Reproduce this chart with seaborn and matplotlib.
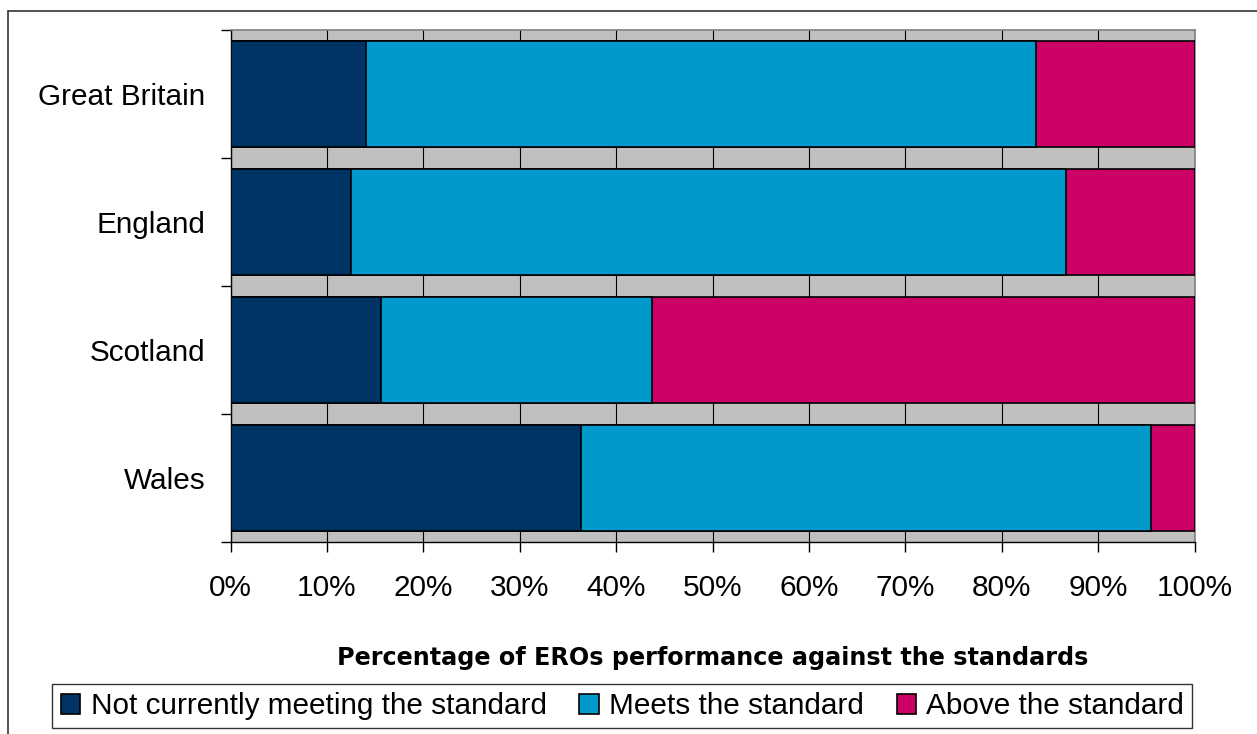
import numpy as np
import pandas as pd
import matplotlib
matplotlib.use("Agg")
import matplotlib.pyplot as plt
from matplotlib.patches import Patch
from matplotlib.lines import Line2D
from matplotlib.ticker import FixedLocator
import seaborn as sns

# ERO performance against the standards, share of EROs in each band (%)
regions = ["Great Britain", "England", "Scotland", "Wales"]
not_meeting = [14.1, 12.5, 15.6, 36.4]
meets = [69.5, 74.2, 28.1, 59.1]
above = [16.4, 13.3, 56.3, 4.5]

series_names = ["Not currently meeting the standard", "Meets the standard", "Above the standard"]
series_colors = ["#003366", "#0099CC", "#CC0066"]
x_ticks = list(range(0, 101, 10))
x_tick_labels = [f"{t}%" for t in x_ticks]
x_title = "Percentage of EROs performance against the standards"

sns.set_style("white")
plt.rcParams["font.family"] = ["Liberation Sans", "DejaVu Sans"]
plt.rcParams["text.color"] = "black"
plt.rcParams["axes.labelcolor"] = "black"
plt.rcParams["xtick.color"] = "black"
plt.rcParams["ytick.color"] = "black"

df = pd.DataFrame({
    "region": regions,
    "not_meeting": not_meeting,
    "meets": meets,
    "above": above,
})
# cumulative right edges of each stacked segment
df["edge1"] = df["not_meeting"]
df["edge2"] = df["not_meeting"] + df["meets"]
df["edge3"] = df["edge2"] + df["above"]

fig = plt.figure(figsize=(12.57, 7.34), dpi=100)
ax = fig.add_axes([0.1834, 0.2616, 0.7669, 0.6975])
ax.set_facecolor("#C0C0C0")

# widest segment first so the shorter ones sit on top of it
for col, color in zip(["edge3", "edge2", "edge1"], series_colors[::-1]):
    sns.barplot(data=df, x=col, y="region", orient="h", color=color,
                saturation=1, width=0.834, edgecolor="black", linewidth=1.2,
                ax=ax, zorder=3)

ax.set_xlim(0, 100)
ax.set_ylim(3.5, -0.5)
ax.set_xticks(x_ticks)
ax.set_xticklabels(x_tick_labels, fontsize=21.4, color="black")
ax.tick_params(axis="x", length=7, width=1, color="black", pad=16, direction="out")
ax.xaxis.grid(True, color="black", linewidth=0.8)
ax.yaxis.grid(False)
ax.set_axisbelow(True)

ax.set_yticks(range(len(regions)))
ax.set_yticklabels(regions, fontsize=21.4, color="black")
ax.tick_params(axis="y", which="major", length=0, pad=18)
ax.yaxis.set_minor_locator(FixedLocator(np.arange(-0.5, len(regions), 1.0)))
ax.tick_params(axis="y", which="minor", length=7, width=1, color="black", direction="out", left=True)
ax.tick_params(axis="x", bottom=True)

for side in ["left", "bottom"]:
    ax.spines[side].set_color("black")
    ax.spines[side].set_linewidth(1)
for side in ["top", "right"]:
    ax.spines[side].set_color("#808080")
    ax.spines[side].set_linewidth(1.2)

ax.set_ylabel("")
ax.set_xlabel(x_title, fontsize=17.2, fontweight="bold", family="DejaVu Sans",
              va="center", color="black")
ax.xaxis.set_label_coords(0.5, -0.226)

handles = [Patch(facecolor=c, edgecolor="black", linewidth=1.2, label=n)
           for n, c in zip(series_names, series_colors)]
leg = fig.legend(handles=handles, loc="center", bbox_to_anchor=(0.4952, 0.0381),
                 ncol=3, fontsize=21.4, frameon=True, fancybox=False, shadow=False,
                 handlelength=0.65, handleheight=0.65, handletextpad=0.35,
                 columnspacing=1.1, borderpad=0.28, borderaxespad=0)
for t in leg.get_texts():
    t.set_color("black")
frame = leg.get_frame()
frame.set_edgecolor("#333333")
frame.set_linewidth(1)
frame.set_facecolor("white")
frame.set_alpha(1)

# outer chart border along the left and top edges
fig.add_artist(Line2D([8 / 1257, 8 / 1257], [0, 1 - 11 / 734], transform=fig.transFigure,
                      color="#333333", linewidth=1.2))
fig.add_artist(Line2D([8 / 1257, 1], [1 - 11 / 734, 1 - 11 / 734], transform=fig.transFigure,
                      color="#333333", linewidth=1.2))

fig.savefig("out.png", dpi=100)
